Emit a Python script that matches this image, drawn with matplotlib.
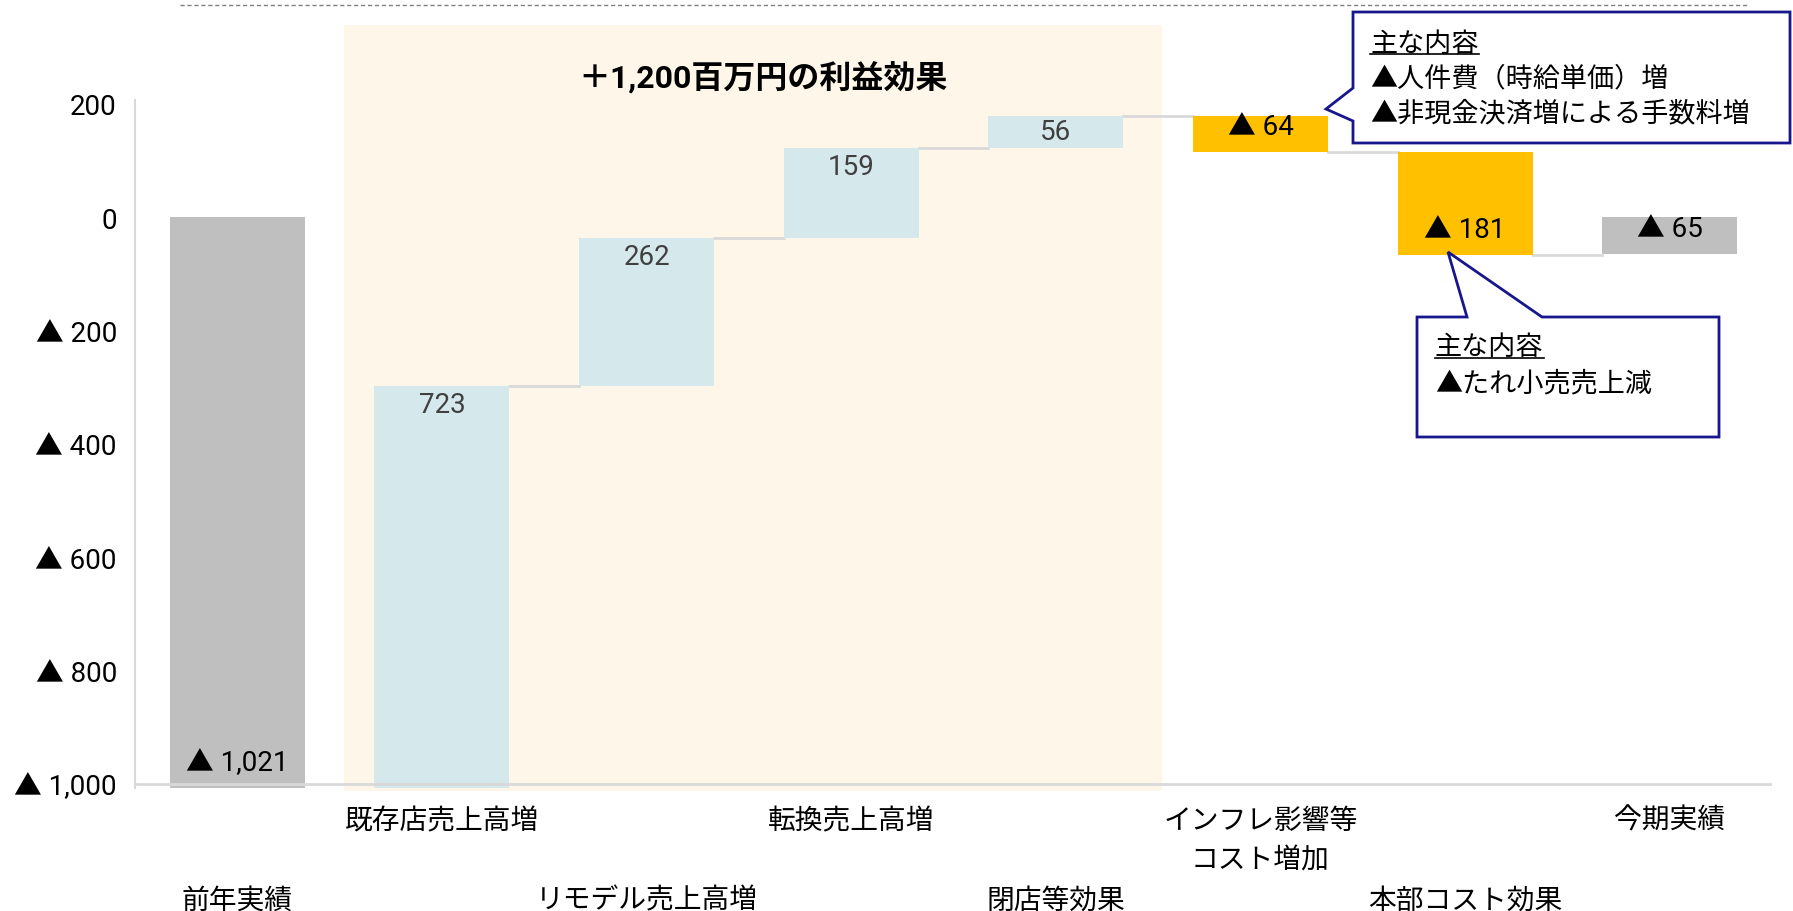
import matplotlib
matplotlib.use('Agg')
import matplotlib.pyplot as plt
from matplotlib import font_manager, ft2font
from matplotlib.patches import Polygon, Rectangle
from matplotlib.lines import Line2D
from matplotlib.transforms import blended_transform_factory

# latin font for digits, but the ▲ should come from the CJK font (full size)
def has_glyph(name, ch):
    try:
        path = font_manager.findfont(name, fallback_to_default=False)
    except ValueError:
        return True
    return ft2font.FT2Font(path).get_char_index(ord(ch)) != 0

latin = None
for f in ['Liberation Sans', 'Roboto', 'Open Sans', 'Lato', 'Inter']:
    if not has_glyph(f, '▲'):
        latin = f
        break
families = ([latin] if latin else []) + ['Noto Sans CJK JP', 'DejaVu Sans']
plt.rcParams['font.family'] = families

# data (百万円)
categories = ['前年実績', '既存店売上高増', 'リモデル売上高増', '転換売上高増',
              '閉店等効果', 'インフレ影響等\nコスト増加', '本部コスト効果', '今期実績']
start_value = -1021
changes = [723, 262, 159, 56, -64, -181]
final_value = -65
yticks = [200, 0, -200, -400, -600, -800, -1000]
title_text = '＋1,200百万円の利益効果'
note1_lines = ['主な内容', '▲人件費（時給単価）増', '▲非現金決済増による手数料増']
note2_lines = ['主な内容', '▲たれ小売売上減']

c_total = '#BFBFBF'
c_up = '#D5E8EB'
c_down = '#FFC000'
c_band = '#FEF7E9'
c_conn = '#D9D9D9'
c_note = '#17168C'

def fmt(v):
    if v < 0:
        return '▲ {:,}'.format(abs(v))
    return '{:,}'.format(v)

W, H = 1793, 912
fig = plt.figure(figsize=(W / 100, H / 100), dpi=100)
ax = fig.add_axes([0.0753, 0.1349, 0.9130, 0.7544])
ylo, yhi = -1007, 207
ax.set_xlim(-0.5, 7.5)
ax.set_ylim(ylo, yhi)

# bar start / end
starts = [0]
ends = [start_value]
level = start_value
for c in changes:
    starts.append(level)
    level += c
    ends.append(level)
starts.append(0)
ends.append(final_value)

colors = [c_total] + [c_up if c > 0 else c_down for c in changes] + [c_total]
bw = 0.66
xs = list(range(len(categories)))

# highlight band for the profit effect
band_lo = 1 - bw / 2 - 0.15
band_hi = 4 + bw / 2 + 0.19
ax.add_patch(Rectangle((band_lo, -1012), band_hi - band_lo, 1351,
                       facecolor=c_band, edgecolor='none', zorder=0, clip_on=False))
ax.text((band_lo + band_hi) / 2 + 0.05, 247, title_text, ha='center', va='center',
        fontsize=23, fontweight='bold', color='black')

for x, s, e, col in zip(xs, starts, ends, colors):
    ax.bar(x, e - s, bottom=s, width=bw, color=col, zorder=2)

# connectors
for i in range(len(xs) - 1):
    ax.plot([i + bw / 2, i + 1 - bw / 2], [ends[i], ends[i]], color=c_conn, lw=2, zorder=1)

# value labels at the inside end of each bar
vals = [start_value] + changes + [final_value]
for x, s, e, v in zip(xs, starts, ends, vals):
    h = abs(e - s)
    if e >= s:
        y = e - min(33, h / 2)
        col = '#404040'
    else:
        y = max(e, ylo) + min(45, h / 2 + 14)
        col = 'black'
    ax.text(x, y, fmt(v), ha='center', va='center', fontsize=20, color=col, zorder=3)

# axes styling
ax.axhline(-1000, color=c_conn, lw=2, zorder=4)
for sp in ['top', 'right', 'bottom']:
    ax.spines[sp].set_visible(False)
ax.spines['left'].set_color(c_conn)
ax.spines['left'].set_linewidth(1.5)
ax.set_yticks(yticks)
ax.set_yticklabels([fmt(v) for v in yticks], fontsize=20)
ax.tick_params(axis='y', length=0, pad=13)
ax.set_xticks([])

# staggered category labels
tr = blended_transform_factory(ax.transData, fig.transFigure)
for i, lab in enumerate(categories):
    y = 0.114 if i % 2 == 1 else 0.027
    ax.text(i, y, lab, transform=tr, ha='center', va='top', fontsize=20,
            linespacing=1.6, clip_on=False)

# dashed line at the top
fig.add_artist(Line2D([180 / W, 1747 / W], [1 - 6 / H, 1 - 6 / H], color='#808080',
                      lw=1, dashes=(3, 2)))

# callout boxes (pixel coords from top-left)
def callout(pts, lines, tx, ty0, dy):
    verts = [(px / W, 1 - py / H) for px, py in pts]
    fig.add_artist(Polygon(verts, closed=True, facecolor='white', edgecolor=c_note,
                           lw=2, transform=fig.transFigure, zorder=5))
    texts = []
    for k, line in enumerate(lines):
        t = fig.text(tx / W, 1 - (ty0 + k * dy) / H, line, ha='left', va='center',
                     fontsize=19.5, zorder=6)
        texts.append(t)
    return texts

n1 = callout([(1353, 13), (1790, 13), (1790, 144), (1353, 144), (1353, 122),
              (1326, 110), (1353, 89)], note1_lines, 1370, 44, 35)
n2 = callout([(1417, 318), (1467, 318), (1448, 253), (1542, 318), (1719, 318),
              (1719, 438), (1417, 438)], note2_lines, 1435, 348, 36)

# underline the headers
fig.canvas.draw()
for t in [n1[0], n2[0]]:
    bb = t.get_window_extent()
    yy = (bb.y0 + 3) / H
    fig.add_artist(Line2D([bb.x0 / W, bb.x1 / W], [yy, yy], color='black', lw=1.2, zorder=7))

fig.savefig('out.png', dpi=100)
